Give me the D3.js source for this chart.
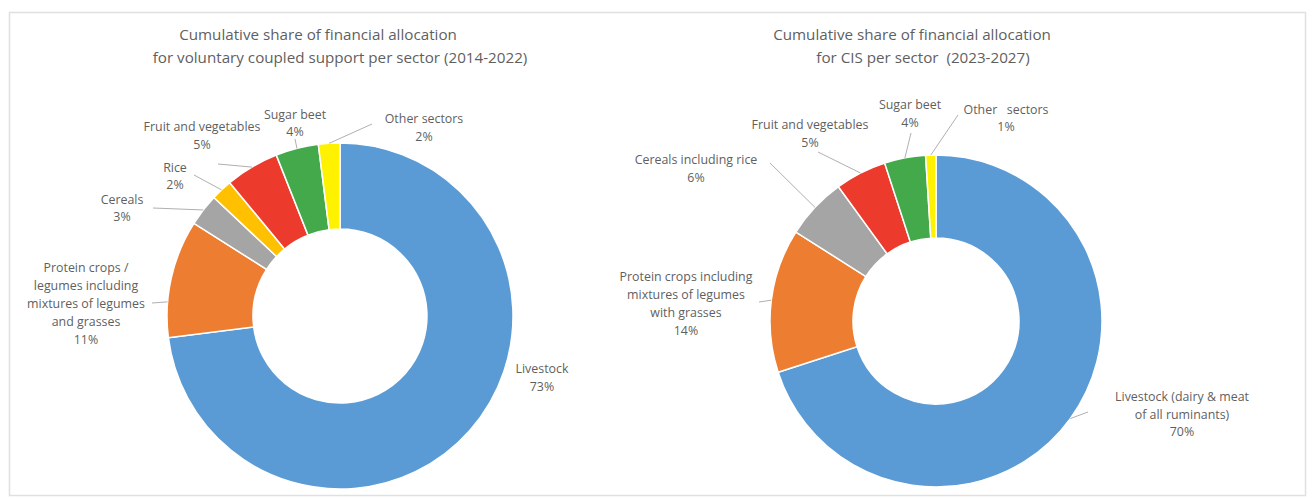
<!DOCTYPE html>
<html>
<head>
<meta charset="utf-8">
<script src="https://cdn.jsdelivr.net/npm/d3@7/dist/d3.min.js"></script>
<style>
  html, body { margin: 0; padding: 0; background: #ffffff; }
  svg { display: block; }
  text { font-family: "Open Sans", "Liberation Sans", sans-serif; fill: #5f5f5f; white-space: pre; }
</style>
</head>
<body>
<svg id="chart" width="1314" height="498"></svg>
<script>
// Sector shares, 2014-2022 (voluntary coupled support)
const vcsSectors = ["Livestock", "Protein crops", "Cereals", "Rice", "Fruit and vegetables", "Sugar beet", "Other sectors"];
const vcsShares  = [73, 11, 3, 2, 5, 4, 2];
const vcsLabels  = [
  ["Livestock", "73%"],
  ["Protein crops /", "legumes including", "mixtures of legumes", "and grasses", "11%"],
  ["Cereals", "3%"],
  ["Rice", "2%"],
  ["Fruit and vegetables", "5%"],
  ["Sugar beet", "4%"],
  ["Other sectors", "2%"]
];
const vcsTitle = ["Cumulative share of financial allocation", "for voluntary coupled support per sector (2014-2022)"];

// Sector shares, 2023-2027 (CIS)
const cisSectors = ["Livestock", "Protein crops", "Cereals including rice", "Fruit and vegetables", "Sugar beet", "Other sectors"];
const cisShares  = [70, 14, 6, 5, 4, 1];
const cisLabels  = [
  ["Livestock (dairy & meat", "of all ruminants)", "70%"],
  ["Protein crops including", "mixtures of legumes", "with grasses", "14%"],
  ["Cereals including rice", "6%"],
  ["Fruit and vegetables", "5%"],
  ["Sugar beet", "4%"],
  ["Other   sectors", "1%"]
];
const cisTitle = ["Cumulative share of financial allocation", "for CIS per sector  (2023-2027)"];

// Colours per sector
const sectorColor = {
  "Livestock": "#5b9bd5",
  "Protein crops": "#ed7d31",
  "Cereals": "#a5a5a5",
  "Cereals including rice": "#a5a5a5",
  "Rice": "#ffc000",
  "Fruit and vegetables": "#ec3b2c",
  "Sugar beet": "#43a94b",
  "Other sectors": "#fff200"
};

const svg = d3.select("#chart");

// outer frame
svg.append("rect")
  .attr("x", 9.5).attr("y", 12.5)
  .attr("width", 1296).attr("height", 483)
  .attr("fill", "none").attr("stroke", "#e0e0e0").attr("stroke-width", 1.5);

function drawDonut(cfg) {
  const g = svg.append("g").attr("transform", `translate(${cfg.cx},${cfg.cy})`);
  const data = cfg.sectors.map((s, i) => ({ sector: s, value: cfg.shares[i], label: cfg.labels[i], pos: cfg.labelPos[i] }));

  const pie = d3.pie().value(d => d.value).sort(null);
  const arc = d3.arc().innerRadius(cfg.r0).outerRadius(cfg.r1);
  const arcs = pie(data);

  g.selectAll("path.slice")
    .data(arcs)
    .join("path")
    .attr("class", "slice")
    .attr("d", arc)
    .attr("fill", d => sectorColor[d.data.sector])
    .attr("stroke", "#ffffff")
    .attr("stroke-width", 1.5);

  // leader lines from label to the outer edge of its slice
  arcs.forEach(a => {
    const p = a.data.pos;
    if (!p.lead) return;
    const f = p.at == null ? 0.5 : p.at;
    const ang = a.startAngle + (a.endAngle - a.startAngle) * f;
    const ex = cfg.cx + cfg.r1 * Math.sin(ang);
    const ey = cfg.cy - cfg.r1 * Math.cos(ang);
    svg.append("line")
      .attr("x1", p.lead[0]).attr("y1", p.lead[1])
      .attr("x2", ex).attr("y2", ey)
      .attr("stroke", "#a6a6a6").attr("stroke-width", 0.9);
  });

  // labels
  arcs.forEach(a => {
    const p = a.data.pos;
    const t = svg.append("text")
      .attr("text-anchor", "middle")
      .attr("font-size", 12.4);
    a.data.label.forEach((line, i) => {
      t.append("tspan")
        .attr("x", p.x)
        .attr("y", p.y + i * p.dy)
        .attr("dy", "0.35em")
        .text(line);
    });
  });

  // title
  cfg.title.forEach((line, i) => {
    svg.append("text")
      .attr("x", cfg.titleX[i])
      .attr("y", 35 + i * 23)
      .attr("dy", "0.35em")
      .attr("text-anchor", "middle")
      .attr("font-size", 15.2)
      .text(line);
  });
}

drawDonut({
  cx: 340, cy: 316, r0: 87, r1: 173,
  sectors: vcsSectors, shares: vcsShares, labels: vcsLabels, title: vcsTitle,
  titleX: [318, 340],
  labelPos: [
    { x: 542, y: 369, dy: 17.5, lead: null },
    { x: 86,  y: 268, dy: 18,   lead: [152, 303], at: 0.3 },
    { x: 122, y: 200, dy: 17,   lead: [153, 208] },
    { x: 175, y: 168, dy: 17,   lead: [194, 175] },
    { x: 202, y: 127, dy: 17.5, lead: [218, 164] },
    { x: 295, y: 115, dy: 17,   lead: [295, 139] },
    { x: 424, y: 119, dy: 18,   lead: [372, 124] }
  ]
});

drawDonut({
  cx: 936, cy: 321, r0: 83, r1: 166,
  sectors: cisSectors, shares: cisShares, labels: cisLabels, title: cisTitle,
  titleX: [912, 923],
  labelPos: [
    { x: 1182, y: 397, dy: 17.5, lead: [1088, 412] },
    { x: 686,  y: 277, dy: 18,   lead: [759, 302] },
    { x: 696,  y: 160, dy: 17.5, lead: [770, 163] },
    { x: 810,  y: 125, dy: 18,   lead: [818, 152] },
    { x: 910,  y: 105, dy: 18,   lead: [911, 133] },
    { x: 1006, y: 110, dy: 17,   lead: [958, 115] }
  ]
});
</script>
</body>
</html>
